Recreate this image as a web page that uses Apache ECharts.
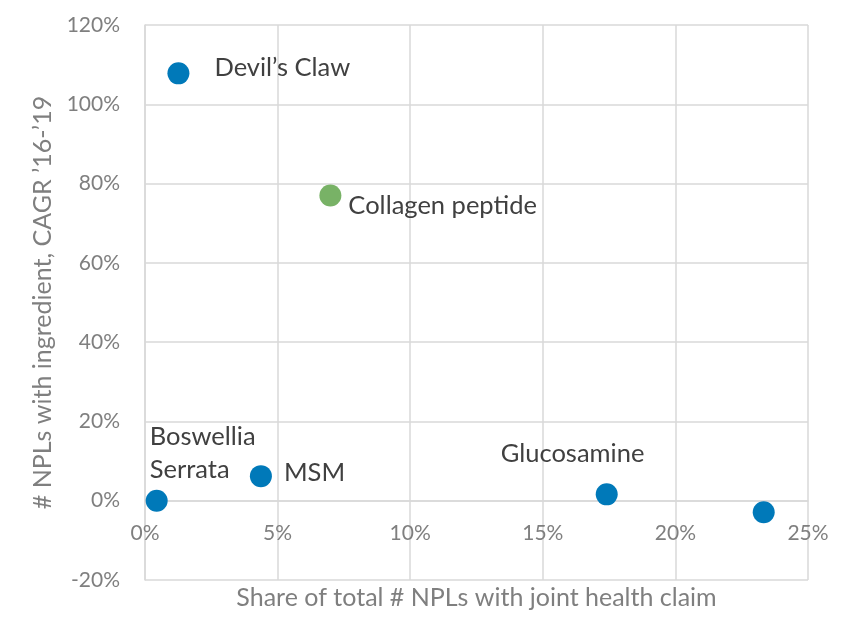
<!DOCTYPE html>
<html>
<head>
<meta charset="utf-8">
<script src="https://cdn.jsdelivr.net/npm/echarts@6/dist/echarts.min.js"></script>
<style>html,body{margin:0;padding:0;background:#fff}#c{width:852px;height:643px}</style>
</head>
<body>
<div id="c"></div>
<script>
// Data (percent units)
var ingredients = ['Devil\u2019s Claw', 'Collagen peptide', 'Boswellia\nSerrata', 'MSM', 'Glucosamine', ''];
var shareOfNPLs = [1.26, 6.99, 0.44, 4.37, 17.41, 23.33];
var cagr1619 = [107.8, 77.0, 0.0, 6.2, 1.6, -2.9];
var groups = ['blue', 'green', 'blue', 'blue', 'blue', 'blue'];
var xTicks = { min: 0, max: 25, interval: 5 };
var yTicks = { min: -20, max: 120, interval: 20 };

// Styling (not data)
var palette = { blue: '#0079B9', green: '#78B266' };
var labelOffsets = [[47, 5], [29, 21], [4, -36], [34, 8], [-95, -30], [0, 0]];

var seriesData = ingredients.map(function (n, i) {
  return {
    name: n,
    value: [shareOfNPLs[i], cagr1619[i]],
    itemStyle: { color: palette[groups[i]], opacity: 1 },
    label: {
      show: n !== '',
      formatter: n,
      position: labelOffsets[i],
      align: 'left',
      verticalAlign: 'middle',
      lineHeight: 33
    }
  };
});

var chart = echarts.init(document.getElementById('c'));
chart.setOption({
  animation: false,
  backgroundColor: '#fff',
  textStyle: { fontFamily: 'Lato' },
  grid: { left: 145, top: 25, right: 44, bottom: 63, containLabel: false, outerBoundsMode: 'none' },
  xAxis: {
    type: 'value',
    min: xTicks.min, max: xTicks.max, interval: xTicks.interval,
    name: 'Share of total # NPLs with joint health claim',
    nameLocation: 'middle',
    nameGap: 85,
    nameTextStyle: { color: '#7f7f7f', fontSize: 25, fontFamily: 'Lato' },
    axisLine: { show: true, onZero: false, lineStyle: { color: '#d9d9d9', width: 1.5 } },
    axisTick: { show: false },
    axisLabel: { color: '#7f7f7f', fontSize: 21, margin: 22, formatter: '{value}%' },
    splitLine: { show: true, lineStyle: { color: '#d9d9d9', width: 1.5 } }
  },
  yAxis: {
    type: 'value',
    min: yTicks.min, max: yTicks.max, interval: yTicks.interval,
    name: '# NPLs with ingredient, CAGR \u201916-\u201919',
    nameLocation: 'middle',
    nameGap: 89,
    nameRotate: 90,
    nameTextStyle: { color: '#7f7f7f', fontSize: 25, fontFamily: 'Lato' },
    axisLine: { show: true, onZero: false, lineStyle: { color: '#d9d9d9', width: 1.5 } },
    axisTick: { show: false },
    axisLabel: { color: '#7f7f7f', fontSize: 21, margin: 25, formatter: '{value}%' },
    splitLine: { show: true, lineStyle: { color: '#d9d9d9', width: 1.5 } }
  },
  series: [{
    type: 'scatter',
    symbol: 'circle',
    symbolSize: 22,
    data: seriesData,
    label: { color: '#404040', fontSize: 25.5, fontFamily: 'Lato' }
  }]
});

// Place the x axis (line, labels, title) on the y = 0 line, as in the reference.
var zeroY = chart.convertToPixel({ yAxisIndex: 0 }, 0);
var bottomY = chart.convertToPixel({ yAxisIndex: 0 }, yTicks.min);
chart.setOption({ xAxis: { offset: -(bottomY - zeroY) } });
</script>
</body>
</html>
